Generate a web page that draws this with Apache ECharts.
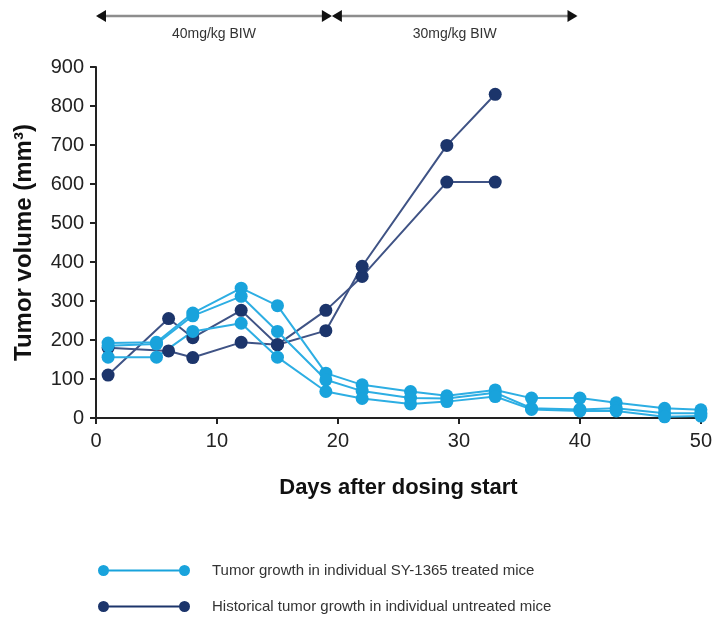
<!DOCTYPE html>
<html><head><meta charset="utf-8">
<script src="https://cdn.jsdelivr.net/npm/echarts@6/dist/echarts.min.js"></script>
<style>html,body{margin:0;padding:0;background:#fff}#c{width:715px;height:618px}</style>
</head><body><div id="c"></div>
<script>
// ---- data ----
const treatedDays = [1, 5, 8, 12, 15, 19, 22, 26, 29, 33, 36, 40, 43, 47, 50];
const treatedMouse1 = [192, 194, 269, 333, 288, 115, 85, 68, 57, 72, 51, 51, 39, 25, 21];
const treatedMouse2 = [185, 190, 262, 312, 222, 98, 69, 51, 50, 65, 25, 22, 25, 12, 12];
const treatedMouse3 = [156, 156, 222, 243, 156, 68, 50, 36, 42, 55, 22, 18, 18, 3, 5];
const untreatedDays = [1, 6, 8, 12, 15, 19, 22, 29, 33];
const untreatedMouse1 = [110, 255, 206, 276, 188, 276, 363, 605, 605];
const untreatedMouse2 = [180, 172, 155, 194, 188, 224, 389, 699, 830];
const xTicks = [0, 10, 20, 30, 40, 50];
const yTicks = [0, 100, 200, 300, 400, 500, 600, 700, 800, 900];
const doseLabels = ['40mg/kg BIW', '30mg/kg BIW'];
const doseBounds = [0, 19.5, 39.8];
const treatedName = 'Tumor growth in individual SY-1365 treated mice';
const untreatedName = 'Historical tumor growth in individual untreated mice';

// ---- styles ----
const LIGHT_MARK = '#19a3dc', LIGHT_LINE = '#2daee3';
const DARK_MARK = '#1c356b', DARK_LINE = '#3f5385';
const FONT = '"Liberation Sans", Arial, sans-serif';

function pairs(days, vals) { return days.map((d, i) => [d, vals[i]]); }
function lineS(name, days, vals, lc, mc) {
  return { name, type: 'line', data: pairs(days, vals), showSymbol: false, symbol: 'none',
    lineStyle: { color: lc, width: 2 }, itemStyle: { color: mc }, z: 2, animation: false, silent: true };
}
function dotS(name, days, vals, mc, z) {
  return { name, type: 'scatter', data: pairs(days, vals), symbol: 'circle', symbolSize: 13,
    itemStyle: { color: mc, opacity: 1 }, z: z, animation: false, silent: true };
}

const chart = echarts.init(document.getElementById('c'), null, { renderer: 'canvas' });
const iconPath = 'path://M0,5.5a5.5,5.5 0 1,0 11,0a5.5,5.5 0 1,0 -11,0Z M81,5.5a5.5,5.5 0 1,0 11,0a5.5,5.5 0 1,0 -11,0Z M5,4.4L5,6.6L87,6.6L87,4.4Z';

chart.setOption({
  backgroundColor: '#fff',
  textStyle: { fontFamily: FONT },
  grid: { left: 96, right: 13, top: 67, bottom: 200, containLabel: false },
  xAxis: {
    type: 'value', min: xTicks[0], max: xTicks[xTicks.length - 1], interval: 10,
    name: 'Days after dosing start', nameLocation: 'middle', nameGap: 59,
    nameTextStyle: { fontSize: 22, fontWeight: 'bold', color: '#111', fontFamily: FONT },
    axisLine: { show: true, lineStyle: { color: '#222', width: 2 } },
    axisTick: { show: true, length: 6, lineStyle: { color: '#222', width: 2 } },
    axisLabel: { fontSize: 20, color: '#222', margin: 13, fontFamily: FONT },
    splitLine: { show: false }
  },
  yAxis: {
    type: 'value', min: yTicks[0], max: yTicks[yTicks.length - 1], interval: 100,
    name: 'Tumor volume (mm³)', nameLocation: 'middle', nameGap: 60, nameRotate: 90,
    nameTextStyle: { fontSize: 24, fontWeight: 'bold', color: '#111', fontFamily: FONT },
    axisLine: { show: true, lineStyle: { color: '#222', width: 2 } },
    axisTick: { show: true, length: 6, lineStyle: { color: '#222', width: 2 } },
    axisLabel: { fontSize: 20, color: '#222', margin: 12, fontFamily: FONT },
    splitLine: { show: false }
  },
  legend: {
    orient: 'vertical', left: 98, top: 563, height: 60, padding: 0,
    itemWidth: 92, itemHeight: 11, itemGap: 21,
    selectedMode: false,
    textStyle: { fontSize: 15, color: '#333', fontFamily: FONT, padding: [0, 0, 0, 17] },
    data: [
      { name: treatedName, icon: iconPath, itemStyle: { color: LIGHT_MARK } },
      { name: untreatedName, icon: iconPath, itemStyle: { color: DARK_MARK } }
    ]
  },
  series: [
    lineS(untreatedName, untreatedDays, untreatedMouse1, DARK_LINE, DARK_MARK),
    lineS(untreatedName, untreatedDays, untreatedMouse2, DARK_LINE, DARK_MARK),
    lineS(treatedName, treatedDays, treatedMouse1, LIGHT_LINE, LIGHT_MARK),
    lineS(treatedName, treatedDays, treatedMouse2, LIGHT_LINE, LIGHT_MARK),
    lineS(treatedName, treatedDays, treatedMouse3, LIGHT_LINE, LIGHT_MARK),
    dotS(untreatedName, untreatedDays, untreatedMouse1, DARK_MARK, 3),
    dotS(untreatedName, untreatedDays, untreatedMouse2, DARK_MARK, 3),
    dotS(treatedName, treatedDays, treatedMouse1, LIGHT_MARK, 4),
    dotS(treatedName, treatedDays, treatedMouse2, LIGHT_MARK, 4),
    dotS(treatedName, treatedDays, treatedMouse3, LIGHT_MARK, 4)
  ]
});

// dosing arrows above the plot, positioned through the x axis scale
const xs = doseBounds.map(d => chart.convertToPixel({ xAxisIndex: 0 }, d));
const AY = 16, AH = 6, AL = 10;
const els = [];
for (let k = 0; k < 2; k++) {
  const a = xs[k], b = xs[k + 1];
  els.push({ type: 'line', shape: { x1: a + 2, y1: AY, x2: b - 2, y2: AY }, style: { stroke: '#8d8d8d', lineWidth: 2.5 }, silent: true });
  els.push({ type: 'polygon', shape: { points: [[a, AY], [a + AL, AY - AH], [a + AL, AY + AH]] }, style: { fill: '#111' }, silent: true });
  els.push({ type: 'polygon', shape: { points: [[b, AY], [b - AL, AY - AH], [b - AL, AY + AH]] }, style: { fill: '#111' }, silent: true });
  els.push({ type: 'text', x: (a + b) / 2, y: 34, style: { text: doseLabels[k], font: '14px ' + FONT, fill: '#333', align: 'center', verticalAlign: 'middle' }, silent: true });
}
chart.setOption({ graphic: els });
</script>
</body></html>
